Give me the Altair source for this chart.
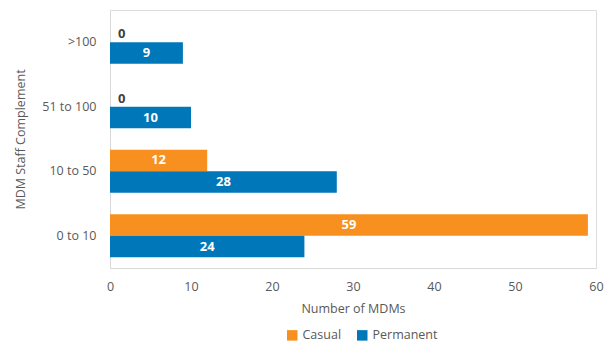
import altair as alt
import pandas as pd

categories = [">100", "51 to 100", "10 to 50", "0 to 10"]
series = ["Casual", "Permanent"]
casual = [0, 0, 12, 59]
permanent = [9, 10, 28, 24]
x_ticks = [0, 10, 20, 30, 40, 50, 60]

rows = []
for c, v in zip(categories, casual):
    rows.append({"cat": c, "series": "Casual", "value": v})
for c, v in zip(categories, permanent):
    rows.append({"cat": c, "series": "Permanent", "value": v})
df = pd.DataFrame(rows)

FONT = "Open Sans"
GRAY = "#595959"
colors = ["#F7901E", "#0077B8"]

y_enc = alt.Y("cat:N", sort=categories,
              axis=alt.Axis(title="MDM Staff Complement", titleFontSize=12.5, titleFontWeight="normal",
                            titleColor=GRAY, titlePadding=14, labelFontSize=12.5, labelColor=GRAY,
                            labelPadding=14, ticks=False, domainColor="#D9D9D9"),
              scale=alt.Scale(paddingInner=0.33, paddingOuter=0.165))
yoff = alt.YOffset("series:N", sort=series)

base = alt.Chart(df)

bars = base.mark_bar().encode(
    x=alt.X("value:Q", scale=alt.Scale(domain=[0, 60]),
            axis=alt.Axis(values=x_ticks, title="Number of MDMs", titleFontSize=12.5,
                          titleFontWeight="normal", titleColor=GRAY, titlePadding=10,
                          labelFontSize=12.5, labelColor=GRAY, labelPadding=12, ticks=False,
                          labelFlush=False, grid=False, domainColor="#D9D9D9")),
    y=y_enc,
    yOffset=yoff,
    color=alt.Color("series:N", sort=series, scale=alt.Scale(domain=series, range=colors),
                    legend=alt.Legend(title=None, orient="none", direction="horizontal",
                                      legendX=176, legendY=319, symbolType="square",
                                      symbolSize=110, labelFontSize=12.5, labelColor=GRAY,
                                      labelFont=FONT, columnPadding=14, symbolStrokeWidth=0)),
)

labels = base.transform_filter("datum.value > 0").transform_calculate(
    mid="datum.value / 2").mark_text(
    color="white", fontWeight="bold", fontSize=13, font=FONT, align="center", baseline="middle"
).encode(
    x="mid:Q", y=alt.Y("cat:N", sort=categories), yOffset=yoff, text="value:Q")

zeros = base.transform_filter("datum.value == 0").mark_text(
    color="#404040", fontWeight="bold", fontSize=13, font=FONT, align="left", baseline="middle", dx=8, dy=3
).encode(
    x="value:Q", y=alt.Y("cat:N", sort=categories), yOffset=yoff, text="value:Q")

chart = alt.layer(bars, labels, zeros).properties(
    width=486, height=258,
    autosize=alt.AutoSizeParams(type="none"),
    padding={"left": 102, "top": 2, "right": 8, "bottom": 76},
).configure_view(stroke=None).configure(font=FONT)

chart.save("out.html", embed_options={"renderer": "svg", "actions": False})
